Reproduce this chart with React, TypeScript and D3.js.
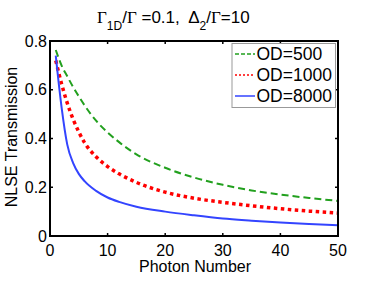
import * as d3 from 'd3';
import React from 'react';

// photon number (x) and transmission for each optical depth
const photons = [1, 2, 3, 4, 5, 6, 8, 10, 12, 15, 20, 25, 30, 35, 40, 45, 50];
const od500 = [0.763, 0.70, 0.655, 0.612, 0.573, 0.536, 0.473, 0.425, 0.385, 0.335, 0.28, 0.24, 0.21, 0.187, 0.17, 0.156, 0.144];
const od1000 = [0.72, 0.625, 0.545, 0.48, 0.427, 0.383, 0.325, 0.285, 0.255, 0.22, 0.18, 0.155, 0.138, 0.124, 0.112, 0.102, 0.094];
const od8000 = [0.74, 0.53, 0.375, 0.30, 0.255, 0.225, 0.185, 0.158, 0.14, 0.12, 0.10, 0.085, 0.072, 0.063, 0.055, 0.049, 0.044];
const xTicks = [0, 10, 20, 30, 40, 50];
const yTicks = [0, 0.2, 0.4, 0.6, 0.8];
const seriesNames = ['OD=500', 'OD=1000', 'OD=8000'];

const font = 'Liberation Sans, Arial, Helvetica, sans-serif';
const serif = 'Liberation Serif, Times New Roman, serif';

export default function App() {
  const left = 50, right = 338, top = 41, bottom = 236;
  const x = d3.scaleLinear().domain([0, 50]).range([left, right]);
  const y = d3.scaleLinear().domain([0, 0.8]).range([bottom, top]);
  const line = d3.line<number>().x((_, i) => x(photons[i])).y(d => y(d)).curve(d3.curveMonotoneX);

  const series = [
    { name: seriesNames[0], data: od500, color: '#22a01e', dash: '7,4', w: 2, legDash: '4,2' },
    { name: seriesNames[1], data: od1000, color: '#ff0000', dash: '3.5,3.5', w: 3.5, legDash: '2,2' },
    { name: seriesNames[2], data: od8000, color: '#3344ff', dash: null, w: 2, legDash: null },
  ];

  return (
    <svg width={374} height={281} style={{ position: 'absolute', left: 0, top: 0, background: '#fff' }}>
      <text x={97} y={23} fontFamily={font} fontSize={17} fill="#000">
        <tspan fontFamily={serif}>Γ</tspan>
        <tspan fontSize={12} dy={7}>1D</tspan>
        <tspan dy={-7}>/</tspan>
        <tspan fontFamily={serif}>Γ</tspan>
        <tspan xmlSpace="preserve"> =0.1,  Δ</tspan>
        <tspan fontSize={12} dy={7}>2</tspan>
        <tspan dy={-7}>/</tspan>
        <tspan fontFamily={serif}>Γ</tspan>
        <tspan>=10</tspan>
      </text>

      {series.map(s => (
        <path key={s.name} d={line(s.data) || ''} fill="none" stroke={s.color}
          strokeWidth={s.w} strokeDasharray={s.dash || undefined} />
      ))}

      <rect x={left} y={top} width={right - left} height={bottom - top} fill="none" stroke="#000" strokeWidth={2} />
      {xTicks.map(t => (
        <g key={'x' + t}>
          <line x1={x(t)} x2={x(t)} y1={bottom} y2={bottom - 3} stroke="#000" strokeWidth={1.5} />
          <line x1={x(t)} x2={x(t)} y1={top} y2={top + 3} stroke="#000" strokeWidth={1.5} />
          <text x={x(t)} y={256} textAnchor="middle" fontFamily={font} fontSize={16}>{t}</text>
        </g>
      ))}
      {yTicks.map(t => (
        <g key={'y' + t}>
          <line x1={left} x2={left + 3} y1={y(t)} y2={y(t)} stroke="#000" strokeWidth={1.5} />
          <line x1={right} x2={right - 3} y1={y(t)} y2={y(t)} stroke="#000" strokeWidth={1.5} />
          <text x={47} y={y(t) + 5.5} textAnchor="end" fontFamily={font} fontSize={16}>{t === 0 ? '0' : t.toFixed(1)}</text>
        </g>
      ))}

      <text x={195} y={272} textAnchor="middle" fontFamily={font} fontSize={16}>Photon Number</text>
      <text transform="translate(17,137) rotate(-90)" textAnchor="middle" fontFamily={font} fontSize={16}>NLSE Transmission</text>

      <g>
        <rect x={232} y={43.5} width={103.5} height={64} fill="#fff" stroke="#999" strokeWidth={1} />
        {series.map((s, i) => (
          <g key={'l' + s.name}>
            <line x1={235} x2={255} y1={54 + i * 21} y2={54 + i * 21} stroke={s.color}
              strokeWidth={1.5} strokeDasharray={s.legDash || undefined} />
            <text x={256.5} y={54 + i * 21 + 6} fontFamily={font} fontSize={17.5}>{s.name}</text>
          </g>
        ))}
      </g>
    </svg>
  );
}
